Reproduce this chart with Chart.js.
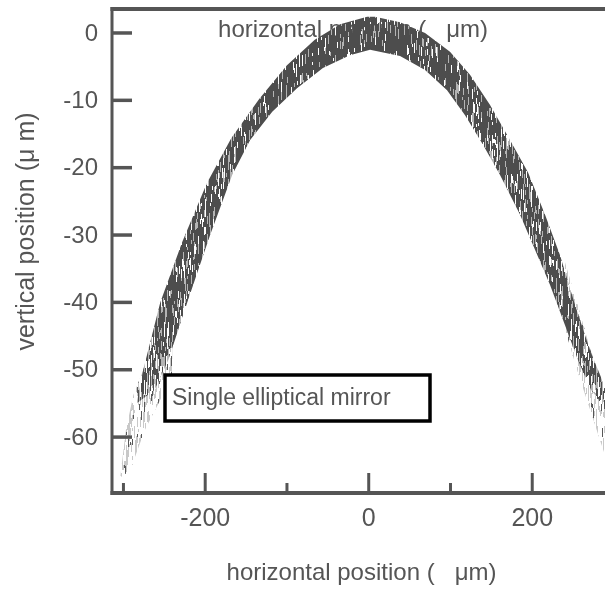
<!DOCTYPE html>
<html>
<head>
<meta charset="utf-8">
<script src="https://cdn.jsdelivr.net/npm/chart.js@4.4.1/dist/chart.umd.min.js"></script>
<style>
  html, body { margin: 0; padding: 0; background: #ffffff; }
  #c { display: block; }
</style>
</head>
<body>
<canvas id="c" width="605" height="589"></canvas>
<script>
// ---- data (µm) ----
const darkUpperX = [-284, -276, -255, -228, -198, -168, -134, -100, -66, -35, -2, 7.7, 38.3, 68.9, 99.4, 123.9, 148.4, 172.8, 194.9, 215.7, 234.0, 252.4, 270.7, 286.6, 292];
const darkUpperY = [-55, -50.1, -40, -31, -22.3, -15.6, -9.8, -4.8, -1.0, 1.3, 2.4, 2.4, 1.6, 0.0, -2.8, -6.2, -10.7, -15.9, -20.7, -27.0, -33.0, -40.4, -47.1, -51.9, -54];
const darkLowerX = [-284, -262, -245, -222, -194, -167, -145, -118, -87.7, -56, -23, 1.6, 38.3, 68.9, 95.8, 117.8, 139.8, 160.6, 185.1, 203.4, 221.8, 240.1, 256.0, 272, 292];
const darkLowerY = [-55, -53, -48.5, -40.0, -30.0, -21.1, -15.9, -11.7, -8.2, -5.2, -3.3, -2.5, -3.4, -5.5, -8.5, -12.2, -16.6, -21.1, -27.0, -32.2, -37.4, -43.4, -48.6, -53, -56];

const lightLeftUpperX = [-304, -297, -288, -276, -262, -240];
const lightLeftUpperY = [-66, -59, -53.8, -50.1, -45, -35.5];
const lightLeftLowerX = [-304, -292, -274, -255, -240];
const lightLeftLowerY = [-66, -65, -59, -54.5, -50.5];

const lightRightUpperX = [240, 256, 271, 287, 296];
const lightRightUpperY = [-34, -40.5, -47, -52, -54];
const lightRightLowerX = [240, 256, 271, 283, 290, 296];
const lightRightLowerY = [-44, -50.5, -56, -60.5, -63, -64];

const yTicks = [0, -10, -20, -30, -40, -50, -60];
const xMajorTicks = [-200, 0, 200];
const xMinorTicks = [-300, -100, 100];

const xTitle = 'horizontal position (   \u03bcm)';
const yTitle = 'vertical position (\u03bc m)';
const legendLabel = 'Single elliptical mirror';

// ---- helpers ----
function pts(xs, ys) { return xs.map((x, i) => ({ x: x, y: ys[i] })); }

// deterministic hash used only for the stroke texture of the fills (style, not data)
function hash(a, b) { const s = Math.sin(a * 12.9898 + b * 78.233) * 43758.5453; return s - Math.floor(s); }

function makeTexture(kind) {
  const c = document.createElement('canvas');
  c.width = 605; c.height = 589;
  const g = c.getContext('2d');
  for (let x = 0; x < 605; x++) {
    let y = 0, k = 0;
    while (y < 589) {
      const len = 3 + Math.floor(hash(x, k) * 8);
      const r = hash(x + 0.5, k + 0.37);
      let col = null;
      if (kind === 'dark') {
        const s = Math.min(1, Math.max(0, (y - 60) / 80));
        const t = Math.min(1, Math.max(0, (y - 300) / 130));
        const pDark = 0.86 - 0.13 * s - 0.43 * t;
        const pLight = 0.07 + 0.08 * s + 0.25 * t;
        if (r < pDark) col = '#4d4d4d'; else if (r < pDark + pLight) col = '#b4b4b4';
      } else {
        if (r < 0.07) col = '#575757'; else if (r < 0.42) col = '#c8c8c8';
      }
      if (col) { g.fillStyle = col; g.fillRect(x, y, 1, len); }
      y += len; k++;
    }
  }
  return g.createPattern(c, 'no-repeat');
}

const FONT = '"Liberation Sans", Arial, Helvetica, sans-serif';
const TXT = '#555555';
const AX = '#555555';

function drawText(ctx, s, x, y, size, align, baseline, rot) {
  ctx.save();
  ctx.translate(x, y);
  if (rot) ctx.rotate(rot);
  ctx.font = size + 'px ' + FONT;
  ctx.fillStyle = TXT;
  ctx.textAlign = align;
  ctx.textBaseline = baseline;
  ctx.fillText(s, 0, 0);
  ctx.restore();
}

const framePlugin = {
  id: 'framePlugin',
  beforeDatasetsDraw(chart) {
    // inner (duplicated) axis caption, lies under the curve
    drawText(chart.ctx, xTitle, 353, 37, 24, 'center', 'alphabetic');
  },
  afterDraw(chart) {
    const ctx = chart.ctx;
    const xs = chart.scales.x, ys = chart.scales.y;
    const a = chart.chartArea;
    ctx.save();
    ctx.strokeStyle = AX;
    ctx.lineCap = 'butt';
    ctx.lineWidth = 4;
    ctx.beginPath(); ctx.moveTo(a.left - 1.5, a.top); ctx.lineTo(a.right, a.top); ctx.stroke();
    ctx.beginPath(); ctx.moveTo(a.left - 1.5, a.bottom); ctx.lineTo(a.right, a.bottom); ctx.stroke();
    ctx.lineWidth = 3;
    ctx.beginPath(); ctx.moveTo(a.left, a.top - 2); ctx.lineTo(a.left, a.bottom + 2); ctx.stroke();
    yTicks.forEach(v => {
      const py = ys.getPixelForValue(v);
      ctx.lineWidth = 3.5;
      ctx.beginPath(); ctx.moveTo(a.left, py); ctx.lineTo(a.left + 20, py); ctx.stroke();
      drawText(ctx, String(v), 98, py + 1, 24, 'right', 'middle');
    });
    xMajorTicks.forEach(v => {
      const px = xs.getPixelForValue(v);
      ctx.lineWidth = 3;
      ctx.beginPath(); ctx.moveTo(px, a.bottom); ctx.lineTo(px, a.bottom - 20); ctx.stroke();
      drawText(ctx, String(v), px, 519, 25, 'center', 'middle');
    });
    xMinorTicks.forEach(v => {
      const px = xs.getPixelForValue(v);
      ctx.lineWidth = 3;
      ctx.beginPath(); ctx.moveTo(px, a.bottom); ctx.lineTo(px, a.bottom - 10); ctx.stroke();
    });
    drawText(ctx, xTitle, 361.5, 580, 24, 'center', 'alphabetic');
    drawText(ctx, yTitle, 34, 231.5, 25, 'center', 'alphabetic', -Math.PI / 2);
    ctx.fillStyle = '#ffffff';
    ctx.fillRect(165, 375, 265, 46);
    ctx.strokeStyle = '#000000';
    ctx.lineWidth = 3.5;
    ctx.strokeRect(165, 375, 265, 46);
    drawText(ctx, legendLabel, 172, 399, 23, 'left', 'middle');
    ctx.restore();
  }
};

const ctx = document.getElementById('c').getContext('2d');
const darkTex = makeTexture('dark');
const lightTex = makeTexture('light');
const clear = 'rgba(0,0,0,0)';
const base = { borderColor: clear, borderWidth: 0, pointRadius: 0, tension: 0 };

new Chart(ctx, {
  type: 'line',
  data: {
    datasets: [
      Object.assign({ label: 'dark upper', data: pts(darkUpperX, darkUpperY), fill: 1, backgroundColor: darkTex }, base),
      Object.assign({ label: 'dark lower', data: pts(darkLowerX, darkLowerY), fill: false }, base),
      Object.assign({ label: 'light left upper', data: pts(lightLeftUpperX, lightLeftUpperY), fill: 3, backgroundColor: lightTex }, base),
      Object.assign({ label: 'light left lower', data: pts(lightLeftLowerX, lightLeftLowerY), fill: false }, base),
      Object.assign({ label: 'light right upper', data: pts(lightRightUpperX, lightRightUpperY), fill: 5, backgroundColor: lightTex }, base),
      Object.assign({ label: 'light right lower', data: pts(lightRightLowerX, lightRightLowerY), fill: false }, base)
    ]
  },
  options: {
    responsive: false,
    animation: false,
    events: [],
    layout: { padding: { left: 112, top: 9, right: 0, bottom: 96 } },
    plugins: { legend: { display: false }, tooltip: { enabled: false }, title: { display: false } },
    scales: {
      x: { type: 'linear', min: -314, max: 289, display: false },
      y: { type: 'linear', min: -68.3, max: 3.56, display: false }
    }
  },
  plugins: [framePlugin]
});
</script>
</body>
</html>
